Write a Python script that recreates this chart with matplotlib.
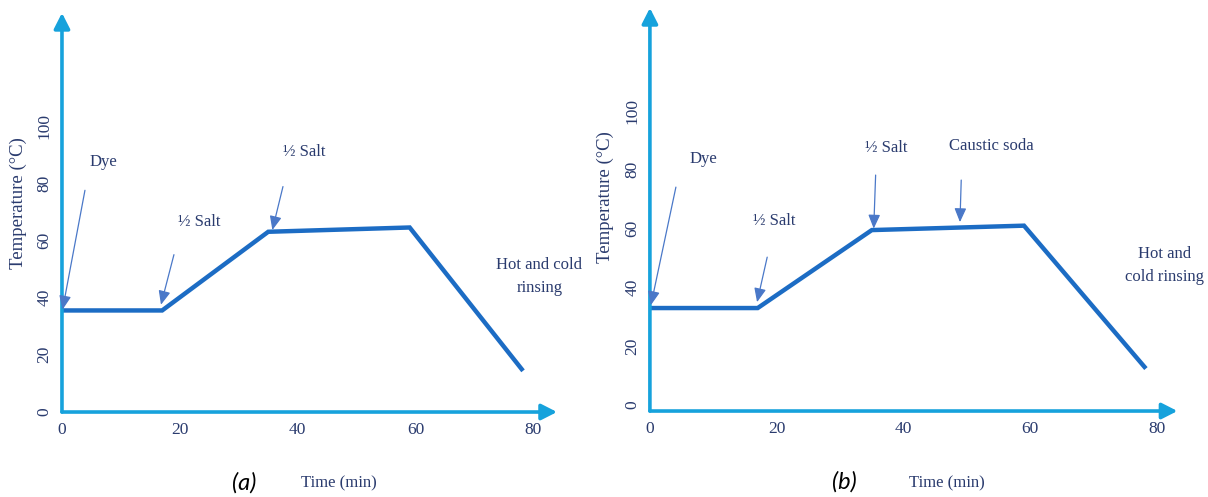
import matplotlib.pyplot as plt

# temperature profiles (time in min, temperature in °C)
time_a = [0, 17, 35, 59, 78]
temp_a = [35.5, 35.5, 63, 64.5, 15]
time_b = [0, 17, 35, 59, 78]
temp_b = [33, 33, 59.5, 61, 13]

xticks = [0, 20, 40, 60, 80]
yticks = [0, 20, 40, 60, 80, 100]

axis_col = '#16a2dc'
line_col = '#1c6cc4'
arrow_col = '#4a78c8'
text_col = '#2a3b6e'

plt.rcParams['font.family'] = ['Liberation Serif', 'DejaVu Serif']

fig = plt.figure(figsize=(12.08, 4.97), dpi=100)
ax1 = fig.add_axes([0.0513, 0.171, 0.4098, 0.803])
ax2 = fig.add_axes([0.538, 0.173, 0.4367, 0.811])


def setup(ax, xmax, ylo, yhi, xl, yl):
    ax.set_xlim(0, xmax)
    ax.set_ylim(ylo, yhi)
    for s in ax.spines.values():
        s.set_visible(False)
    # axes drawn as arrows
    for tip in [(1, 0), (0, 1)]:
        ax.annotate('', xy=tip, xytext=(0, 0), xycoords='axes fraction',
                    arrowprops=dict(arrowstyle='-|>,head_length=0.55,head_width=0.28',
                                    color=axis_col, lw=2.6, mutation_scale=17,
                                    shrinkA=0, shrinkB=0))
    ax.set_xticks(xticks)
    ax.set_yticks(yticks)
    ax.tick_params(axis='x', length=0, pad=7, labelsize=12.5, labelcolor=text_col)
    ax.tick_params(axis='y', length=0, pad=7, labelsize=12.5, labelcolor=text_col,
                   labelrotation=90)
    for lab in ax.get_yticklabels():
        lab.set_va('center')
    ax.set_ylabel('Temperature (°C)', fontsize=13.5, color=text_col)
    ax.yaxis.set_label_coords(yl[0], yl[1])
    ax.yaxis.label.set_va('center')
    ax.set_xlabel('Time (min)', fontsize=12, color=text_col)
    ax.xaxis.set_label_coords(xl[0], xl[1])
    ax.xaxis.label.set_va('center')


def note(ax, label, txt_xy, start=None, end=None):
    ax.text(txt_xy[0], txt_xy[1], label, ha='center', va='center',
            fontsize=12, color=text_col, linespacing=1.55)
    if start is not None:
        ax.annotate('', xy=end, xytext=start,
                    arrowprops=dict(arrowstyle='-|>,head_length=0.7,head_width=0.3',
                                    color=arrow_col, lw=0.9, mutation_scale=12,
                                    shrinkA=0, shrinkB=0))


setup(ax1, 84, 0, 139.5, (0.56, -0.178), (-0.089, 0.524))
ax1.plot(time_a, temp_a, color=line_col, lw=3.2, solid_joinstyle='miter')
note(ax1, 'Dye', (7.0, 87.5), (3.9, 77.5), (0.1, 35.8))
note(ax1, '½ Salt', (23.3, 66.5), (19.0, 55.0), (16.8, 37.5))
note(ax1, '½ Salt', (41.1, 91.0), (37.5, 78.8), (35.7, 63.6))
note(ax1, 'Hot and cold\nrinsing', (81.0, 47.3))

setup(ax2, 83.2, -2, 135, (0.563, -0.179), (-0.085, 0.531))
ax2.plot(time_b, temp_b, color=line_col, lw=3.2, solid_joinstyle='miter')
note(ax2, 'Dye', (8.5, 83.6), (4.1, 74.1), (0.16, 34.0))
note(ax2, '½ Salt', (19.6, 62.6), (18.5, 50.3), (16.9, 35.0))
note(ax2, '½ Salt', (37.2, 87.4), (35.6, 78.2), (35.3, 60.0))
note(ax2, 'Caustic soda', (53.9, 88.1), (49.1, 76.5), (48.9, 62.2))
note(ax2, 'Hot and\ncold rinsing', (81.1, 47.4))

fig.text(0.202, 0.028, '(a)', fontsize=17, style='italic', family='Lato',
         color='black', ha='center', va='center')
fig.text(0.699, 0.030, '(b)', fontsize=17, style='italic', family='Lato',
         color='black', ha='center', va='center')

fig.savefig('out.png', dpi=100, facecolor='white')
